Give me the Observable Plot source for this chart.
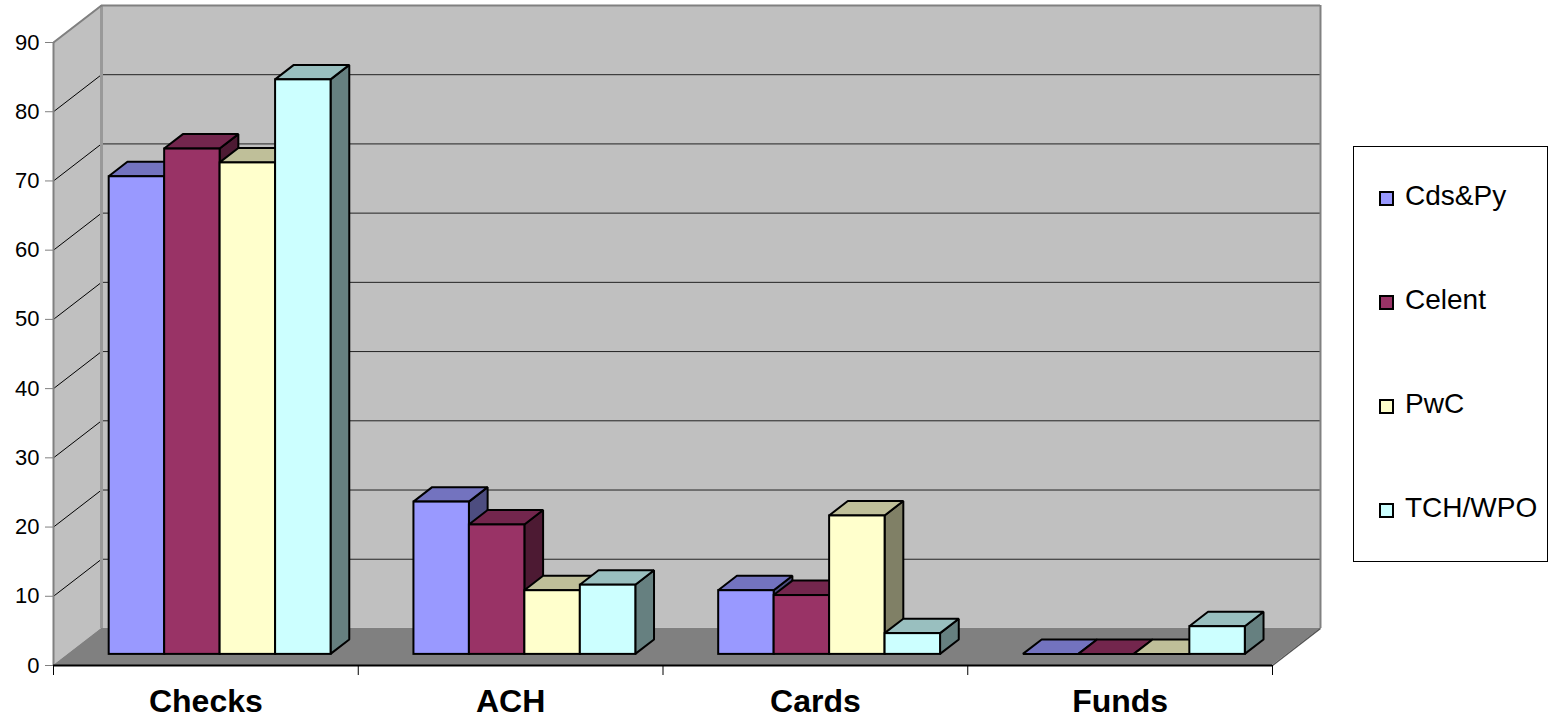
<!DOCTYPE html>
<html>
<head>
<meta charset="utf-8">
<script src="https://cdn.jsdelivr.net/npm/d3@7"></script>
<script src="https://cdn.jsdelivr.net/npm/@observablehq/plot@0.6"></script>
<style>
  body { margin: 0; background: #fff; font-family: "Liberation Sans", Arial, sans-serif; }
  #wrap { position: relative; width: 1550px; height: 720px; }
  #legend { position: absolute; left: 1353px; top: 146px; width: 195px; height: 416px;
            border: 1px solid #000; box-sizing: border-box; background: #fff; }
  .entry { position: absolute; left: 0; height: 28px; }
  .sw { position: absolute; left: 25px; width: 15px; height: 15px; box-sizing: border-box; border: 2px solid #000; }
  .lab { position: absolute; left: 51px; font-size: 28px; line-height: 28px; white-space: nowrap; color: #000; }
</style>
</head>
<body>
<div id="wrap"></div>
<script>
// Categories, series and values
const categories = ["Checks", "ACH", "Cards", "Funds"];
const series = ["Cds&Py", "Celent", "PwC", "TCH/WPO"];
const cdsPy  = [69, 22, 9.2, 0];
const celent = [73, 18.7, 8.5, 0];
const pwc    = [71, 9.2, 20, 0];
const tchWpo = [83, 10, 3, 4];
const yTicks = [0, 10, 20, 30, 40, 50, 60, 70, 80, 90];

// Face colours for each series: front, top (lit) and right side (shaded)
const frontColors = ["#9999ff", "#993366", "#ffffcc", "#ccffff"];
const topColors   = ["#7373bf", "#73264d", "#bfbf99", "#99bfbf"];
const sideColors  = ["#4d4d80", "#4d1a33", "#808066", "#668080"];

// Oblique depth of the floor, in x units (categories) and y units (values)
const DX = 0.1575, DY = 5.35;
// Bar layout inside a category band, and the depth slab the bars occupy
const GAP = 0.1355, W = 0.182, D0 = 0.3, D1 = 0.69;

const valuesBySeries = [cdsPy, celent, pwc, tchWpo];
const bars = [];
categories.forEach((c, i) => series.forEach((s, j) => {
  bars.push({key: c + "|" + s, j, v: valuesBySeries[j][i], left: i + GAP + j * W});
}));

const fronts = bars.map(b => ({
  x1: b.left + D0 * DX, x2: b.left + W + D0 * DX,
  y1: D0 * DY, y2: b.v + D0 * DY, fill: frontColors[b.j]
}));
const tops = bars.flatMap(b => [D0, D1].map(d => ({
  key: b.key, y: b.v + d * DY, x1: b.left + d * DX, x2: b.left + W + d * DX, fill: topColors[b.j]
})));
const sides = bars.flatMap(b => [D0, D1].map(d => ({
  key: b.key, x: b.left + W + d * DX, y1: d * DY, y2: b.v + d * DY, fill: sideColors[b.j]
})));

const n = categories.length;
const yMax = yTicks[yTicks.length - 1];
const leftWall = [{x: 0, y1: 0, y2: yMax}, {x: DX, y1: DY, y2: yMax + DY}];
const floor = [{y: 0, x1: 0, x2: n}, {y: DY, x1: DX, x2: n + DX}];
const backWall = [{x1: DX, x2: n + DX, y1: DY, y2: yMax + DY}];
const gridVals = yTicks.filter(v => v > 0 && v < yMax);
const bounds = d3.range(n + 1);
const centers = d3.range(n).map(i => i + 0.5);

const plot = Plot.plot({
  width: 1550,
  height: 720,
  marginLeft: 53,
  marginRight: 278,
  marginTop: 42,
  marginBottom: 55,
  style: {fontFamily: "'Liberation Sans', Arial, sans-serif", background: "transparent", overflow: "visible"},
  x: {type: "linear", domain: [0, n]},
  y: {domain: [0, yMax]},
  color: {type: "identity"},
  marks: [
    // walls and floor
    Plot.rect(backWall, {x1: "x1", x2: "x2", y1: "y1", y2: "y2", fill: "#c0c0c0"}),
    Plot.areaY(leftWall, {x: "x", y1: "y1", y2: "y2", fill: "#c0c0c0"}),
    Plot.areaX(floor, {y: "y", x1: "x1", x2: "x2", fill: "#808080"}),
    // gridlines on the back wall and left wall
    Plot.ruleY(gridVals, {y: v => v + DY, x1: () => DX, x2: () => n + DX, stroke: "#222", strokeWidth: 1}),
    Plot.link(gridVals, {x1: () => 0, y1: v => v, x2: () => DX, y2: v => v + DY, stroke: "#000", strokeWidth: 1}),
    // wall edges
    Plot.ruleX([DX], {y1: () => DY, y2: () => yMax + DY, stroke: "#999", strokeWidth: 3}),
    Plot.ruleX([n + DX], {y1: () => DY, y2: () => yMax + DY, stroke: "#808080", strokeWidth: 2}),
    Plot.ruleY([yMax + DY], {x1: () => DX, x2: () => n + DX, stroke: "#808080", strokeWidth: 2}),
    Plot.link([yMax], {x1: () => 0, y1: v => v, x2: () => DX, y2: v => v + DY, stroke: "#808080", strokeWidth: 2}),
    Plot.link([n], {x1: x => x, y1: () => 0, x2: x => x + DX, y2: () => DY, stroke: "#555", strokeWidth: 1.5}),
    // bars: right sides, then tops, then fronts
    Plot.areaY(sides, {x: "x", y1: "y1", y2: "y2", z: "key", fill: "fill", stroke: "#000", strokeWidth: 2, strokeLinejoin: "miter"}),
    Plot.areaX(tops, {y: "y", x1: "x1", x2: "x2", z: "key", fill: "fill", stroke: "#000", strokeWidth: 2, strokeLinejoin: "miter"}),
    Plot.rect(fronts, {x1: "x1", x2: "x2", y1: "y1", y2: "y2", fill: "fill", stroke: "#000", strokeWidth: 2}),
    // front edges
    Plot.ruleX([0], {y1: () => 0, y2: () => yMax, stroke: "#808080", strokeWidth: 2}),
    Plot.ruleY([0], {x1: () => 0, x2: () => n, stroke: "#000", strokeWidth: 2}),
    // axes
    Plot.axisY({ticks: yTicks, tickSize: 8, tickPadding: 6, fontSize: 22, stroke: "#808080", label: null}),
    Plot.axisX({ticks: bounds, tickSize: 10, tickFormat: () => "", stroke: "#000", label: null}),
    Plot.axisX({ticks: centers, tickSize: 0, tickPadding: 24, fontSize: 32, fontWeight: "bold",
                tickFormat: d => categories[Math.round(d - 0.5)], label: null})
  ]
});

const wrap = document.getElementById("wrap");
wrap.appendChild(plot);

// Legend
const legend = d3.select(wrap).append("div").attr("id", "legend");
const entries = legend.selectAll(".entry").data(series).join("div")
  .attr("class", "entry")
  .style("top", (d, k) => (35 + k * 104) + "px");
entries.append("div").attr("class", "sw")
  .style("top", "9px")
  .style("background", (d, k) => frontColors[k]);
entries.append("div").attr("class", "lab").style("top", "0px").text(d => d);
</script>
</body>
</html>
